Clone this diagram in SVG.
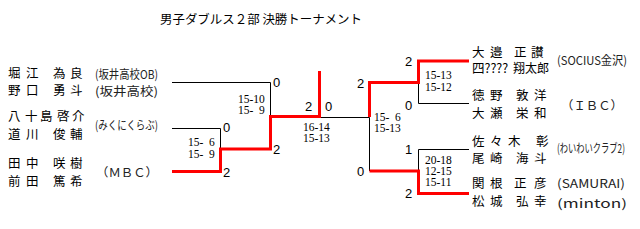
<svg xmlns="http://www.w3.org/2000/svg" width="640" height="229" viewBox="0 0 640 229">
<style>
.t{font-family:"Noto Sans CJK JP","Noto Sans CJK SC",sans-serif;font-size:12.5px;fill:#000}
.c{font-family:"Noto Sans CJK JP","Noto Sans CJK SC",sans-serif;font-size:12px;fill:#222}
.n{font-family:"Liberation Sans",Arial,sans-serif;font-size:13px;fill:#000}
.s{font-family:"Liberation Serif","Times New Roman",serif;font-size:11.5px;fill:#000}
.bk{fill:none;stroke:#000;stroke-width:1}
.rd{fill:none;stroke:#ff0000;stroke-width:3}
</style>
<rect width="640" height="229" fill="#fff"/>
<text class="t" x="160" y="24" textLength="202" lengthAdjust="spacingAndGlyphs">男子ダブルス２部 決勝トーナメント</text>

<g id="team-hori-noguchi">
<text class="t" x="8 26 53 70" y="78">堀江為良</text>
<text class="t" x="8 26 53 70" y="95">野口勇斗</text>
<text class="c" x="95" y="79" textLength="63" lengthAdjust="spacingAndGlyphs">(坂井高校OB)</text>
<text class="c" x="95" y="96" textLength="63" lengthAdjust="spacingAndGlyphs">(坂井高校)</text>
</g>
<g id="team-yasojima-michikawa">
<text class="t" x="8 25 40 57 72" y="121">八十島啓介</text>
<text class="t" x="8 26 53 70" y="139">道川俊輔</text>
<text class="c" x="95" y="130" textLength="63" lengthAdjust="spacingAndGlyphs">(みくにくらぶ)</text>
</g>
<g id="team-tanaka-maeda">
<text class="t" x="8 26 53 70" y="168">田中咲樹</text>
<text class="t" x="8 26 53 70" y="186">前田篤希</text>
<text class="c" x="96" y="177" textLength="62" lengthAdjust="spacingAndGlyphs">（ＭＢＣ）</text>
</g>
<g id="team-osako-shi">
<text class="t" x="472 490 514 531" y="57">大邉正讃</text>
<text class="t" x="472" y="73">四????</text>
<text class="t" x="513" y="73" textLength="36" lengthAdjust="spacingAndGlyphs">翔太郎</text>
<text class="c" x="557" y="65" textLength="70" lengthAdjust="spacingAndGlyphs">(SOCIUS金沢)</text>
</g>
<g id="team-tokuno-ose">
<text class="t" x="472 490 516 534" y="100">徳野敦洋</text>
<text class="t" x="472 490 516 534" y="118">大瀬栄和</text>
<text class="c" x="561" y="110" textLength="62" lengthAdjust="spacingAndGlyphs">（ＩＢＣ）</text>
</g>
<g id="team-sasaki-ozaki">
<text class="t" x="472 490 508 536" y="146">佐々木彰</text>
<text class="t" x="472 490 516 534" y="163">尾崎海斗</text>
<text class="c" x="557" y="153" textLength="68" lengthAdjust="spacingAndGlyphs">(わいわいクラブ2)</text>
</g>
<g id="team-sekine-matsushiro">
<text class="t" x="472 490 514 534" y="188">関根正彦</text>
<text class="t" x="472 490 516 534" y="206">松城弘幸</text>
<text class="c" x="557" y="188" textLength="68" lengthAdjust="spacingAndGlyphs">(SAMURAI)</text>
<text class="c" x="557" y="208" textLength="70" lengthAdjust="spacingAndGlyphs">(minton)</text>
</g>

<g id="connectors">
<path class="bk" d="M172,82.5 H270.5 V117"/>
<path class="bk" d="M172,128.5 H220.5 V149"/>
<path class="bk" d="M319,117.5 H369.5 V171"/>
<path class="bk" d="M418.5,82 V103.5 H469"/>
<path class="bk" d="M469,149.5 H418.5 V171"/>
<path class="rd" d="M172,171.5 H220.5 V149 H270.5 V116.5 H319.5 V71"/>
<path class="rd" d="M369.5,117 V82.5 H418.5 V61 H469"/>
<path class="rd" d="M369.5,171 H418.5 V193.5 H469"/>
</g>

<g id="match-r1a">
<text class="n" x="273" y="87">0</text>
<text class="s" x="238" y="103">15-10</text>
<text class="s" x="238" y="114">15-&#8194;9</text>
<text class="n" x="273" y="154">2</text>
</g>
<g id="match-r1b">
<text class="n" x="223" y="132">0</text>
<text class="s" x="188" y="146">15-&#8194;6</text>
<text class="s" x="188" y="157.5">15-&#8194;9</text>
<text class="n" x="223" y="177">2</text>
</g>
<g id="match-semi-left">
<text class="n" x="305" y="111">2</text>
<text class="n" x="325" y="111">0</text>
<text class="s" x="303" y="131">16-14</text>
<text class="s" x="303" y="142">15-13</text>
</g>
<g id="match-final">
<text class="n" x="357" y="88">2</text>
<text class="s" x="374" y="121">15-&#8194;6</text>
<text class="s" x="374" y="132">15-13</text>
<text class="n" x="357" y="176">0</text>
</g>
<g id="match-r1c">
<text class="n" x="405" y="66">2</text>
<text class="s" x="425" y="79">15-13</text>
<text class="s" x="425" y="90.5">15-12</text>
<text class="n" x="405" y="110">0</text>
</g>
<g id="match-r1d">
<text class="n" x="405" y="154">1</text>
<text class="s" x="425" y="163.5">20-18</text>
<text class="s" x="425" y="175">12-15</text>
<text class="s" x="425" y="186">15-11</text>
<text class="n" x="405" y="198">2</text>
</g>
</svg>
